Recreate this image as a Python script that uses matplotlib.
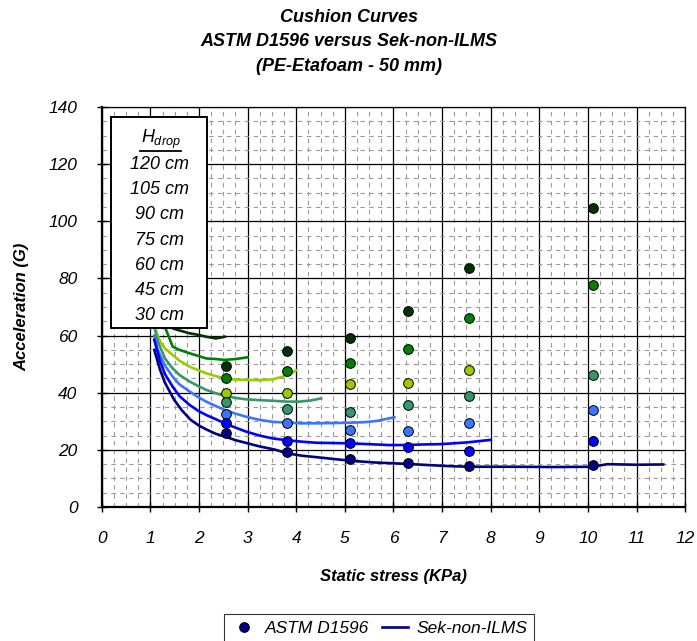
import numpy as np
import matplotlib
matplotlib.use("Agg")
import matplotlib.pyplot as plt
from matplotlib.lines import Line2D
from matplotlib.patches import Rectangle

plt.rcParams["font.family"] = ["Liberation Sans", "DejaVu Sans"]
plt.rcParams["mathtext.fontset"] = "custom"
plt.rcParams["mathtext.it"] = "Liberation Sans:italic"
plt.rcParams["mathtext.rm"] = "Liberation Sans:italic"

# ASTM D1596 measured points (static stress, KPa)
astm_x = [2.55, 3.8, 5.1, 6.3, 7.55, 10.1]
astm_120 = [49.4, 54.6, 59.3, 68.7, 83.5, 104.8]
astm_105 = [45.3, 47.7, 50.3, 55.2, 66.0, 77.7]
astm_90 = [40.0, 40.0, 43.0, 43.5, 47.9, np.nan]
astm_75 = [36.9, 34.2, 33.2, 35.8, 39.0, 46.2]
astm_60 = [32.5, 29.4, 27.1, 26.6, 29.4, 34.0]
astm_45 = [29.3, 23.2, 22.3, 20.9, 19.7, 23.2]
astm_30 = [26.0, 19.1, 16.7, 15.5, 14.3, 14.6]

# Sek-non-ILMS curves
sek_120_x = [1.1, 1.2, 1.35, 1.46, 1.6, 1.81, 2.0, 2.15, 2.35, 2.53]
sek_120_y = [98, 84, 70, 62.5, 61.8, 60.8, 60.2, 59.6, 59.0, 59.6]
sek_105_x = [1.1, 1.2, 1.3, 1.46, 1.6, 1.81, 2.0, 2.15, 2.35, 2.53, 2.75, 3.0]
sek_105_y = [85, 72, 63, 56.1, 55.0, 53.8, 52.8, 52.0, 51.8, 51.5, 51.8, 52.4]
sek_90_x = [1.07, 1.12, 1.2, 1.3, 1.46, 1.6, 1.81, 2.0, 2.15, 2.35, 2.53,
            2.75, 2.97, 3.25, 3.52, 3.8, 4.0]
sek_90_y = [72, 61.4, 58.0, 55.5, 53.2, 51.2, 49.1, 47.8, 46.8, 45.8, 45.0,
            44.6, 44.5, 44.4, 44.7, 46.0, 47.8]
sek_75_x = [1.07, 1.15, 1.3, 1.46, 1.6, 1.81, 2.0, 2.15, 2.35, 2.53, 2.75,
            2.97, 3.25, 3.52, 3.8, 4.07, 4.3, 4.51]
sek_75_y = [64, 58, 52, 48.5, 46.2, 43.9, 42.2, 41.0, 39.8, 38.9, 38.2,
            37.7, 37.4, 37.2, 36.9, 36.9, 37.3, 38.0]
sek_60_x = [1.08, 1.15, 1.3, 1.46, 1.6, 1.81, 2.0, 2.15, 2.35, 2.53, 2.75,
            2.97, 3.25, 3.52, 3.79, 4.1, 4.41, 4.75, 5.09, 5.4, 5.64, 6.02]
sek_60_y = [60, 55, 49.5, 45.6, 42.9, 40.4, 38.3, 36.9, 35.3, 34.0, 32.7,
            31.6, 30.5, 29.8, 29.6, 29.3, 29.3, 29.4, 29.5, 29.7, 30.1, 31.4]
sek_45_x = [1.08, 1.2, 1.3, 1.46, 1.6, 1.81, 2.0, 2.15, 2.35, 2.53, 2.75,
            2.97, 3.25, 3.52, 3.8, 4.1, 4.41, 4.75, 5.09, 5.5, 5.9, 6.26,
            6.6, 6.94, 7.15, 7.5, 8.0]
sek_45_y = [58.5, 51, 46.5, 42.1, 38.8, 35.7, 33.5, 32.2, 30.7, 29.3, 27.8,
            26.4, 25.0, 24.0, 23.4, 22.9, 22.5, 22.4, 22.3, 22.0, 21.7, 21.7,
            21.9, 22.0, 22.2, 22.6, 23.5]
sek_30_x = [1.08, 1.2, 1.3, 1.49, 1.65, 1.83, 2.0, 2.17, 2.35, 2.55, 2.75,
            3.0, 3.25, 3.54, 3.82, 4.1, 4.5, 5.12, 5.6, 6.28, 6.7, 7.17,
            7.58, 8.5, 9.3, 10.1, 10.4, 11.0, 11.55]
sek_30_y = [55, 48, 43.5, 37.5, 33.8, 30.5, 28.5, 27.0, 25.6, 24.6, 23.4,
            22.3, 21.2, 20.2, 18.8, 18.0, 17.3, 16.2, 15.6, 15.1, 14.7, 14.3,
            14.1, 14.1, 14.0, 14.1, 15.0, 14.8, 14.9]

drop_labels = ["120 cm", "105 cm", "90 cm", "75 cm", "60 cm", "45 cm", "30 cm"]
colors = ["#003300", "#008000", "#99CC00", "#339966", "#3A74FF", "#0000FF", "#000080"]

astm_sets = [astm_120, astm_105, astm_90, astm_75, astm_60, astm_45, astm_30]
sek_sets = [(sek_120_x, sek_120_y), (sek_105_x, sek_105_y), (sek_90_x, sek_90_y),
            (sek_75_x, sek_75_y), (sek_60_x, sek_60_y), (sek_45_x, sek_45_y),
            (sek_30_x, sek_30_y)]

fig = plt.figure(figsize=(6.97, 6.41), dpi=100)
ax = fig.add_axes([0.146, 0.209, 0.837, 0.624])

# grid
ax.set_xlim(0, 12)
ax.set_ylim(0, 140)
ax.set_xticks(range(0, 13))
ax.set_yticks(range(0, 141, 20))
ax.set_xticks(np.arange(0, 12.01, 0.25), minor=True)
ax.set_yticks(range(0, 141, 5), minor=True)
ax.grid(which="minor", color="#9a9a9a", lw=0.8, ls=(0, (4, 4)), zorder=0)
ax.grid(which="major", color="black", lw=0.9, zorder=0.5)
ax.tick_params(which="minor", length=0)
ax.tick_params(which="major", direction="inout", length=7, width=1, labelsize=12.5, pad=14)
for lab in ax.get_xticklabels() + ax.get_yticklabels():
    lab.set_fontstyle("italic")
ax.set_axisbelow(True)
for s in ["left", "bottom"]:
    ax.spines[s].set_linewidth(1.6)
for s in ["top", "right"]:
    ax.spines[s].set_linewidth(0.9)

for (sx, sy), c in zip(sek_sets, colors):
    ax.plot(sx, sy, color=c, lw=1.9, zorder=3)
for ay, c in zip(astm_sets, colors):
    ax.plot(astm_x, ay, "o", color=c, mec="black", mew=0.7, ms=7, ls="none", zorder=4)

# drop-height box
ax.add_patch(Rectangle((0.2, 62.7), 1.96, 73.8, facecolor="white", edgecolor="black",
                       lw=1.4, zorder=5))
ax.text(0.80, 127.3, r"$H_{drop}$", ha="left", va="baseline", fontsize=13, zorder=6)
ax.plot([0.79, 1.62], [124.5, 124.5], color="black", lw=1.3, zorder=6)
for i, lab in enumerate(drop_labels):
    ax.text(1.18, 120.0 - i * 8.85, lab, ha="center", va="center", fontsize=13,
            fontstyle="italic", zorder=6)

fig.text(393 / 697, 1 - 577 / 641, "Static stress (KPa)", ha="center", va="center",
         fontsize=12, fontweight="bold", fontstyle="italic")
fig.text(22 / 697, 1 - 307 / 641, "Acceleration (G)", ha="center", va="center",
         rotation=90, fontsize=12, fontweight="bold", fontstyle="italic")

fig.text(0.5, 1 - 42 / 641, "Cushion Curves\nASTM D1596 versus Sek-non-ILMS\n(PE-Etafoam - 50 mm)",
         ha="center", va="center", fontsize=13, fontweight="bold", fontstyle="italic",
         linespacing=1.55)

handles = [Line2D([], [], marker="o", color="#000080", mec="black", mew=0.7, ms=7, ls="none"),
           Line2D([], [], color="#000080", lw=1.9)]
leg = fig.legend(handles, ["ASTM D1596", "Sek-non-ILMS"], loc="upper center",
                 bbox_to_anchor=(379 / 697, 1 - 605 / 641), ncol=2, frameon=True,
                 fancybox=False, edgecolor="black", prop={"style": "italic", "size": 12.5},
                 handlelength=1.5, columnspacing=0.7, handletextpad=0.5, borderpad=0.4)
leg.get_frame().set_linewidth(0.8)

fig.savefig("out.png", dpi=100)
